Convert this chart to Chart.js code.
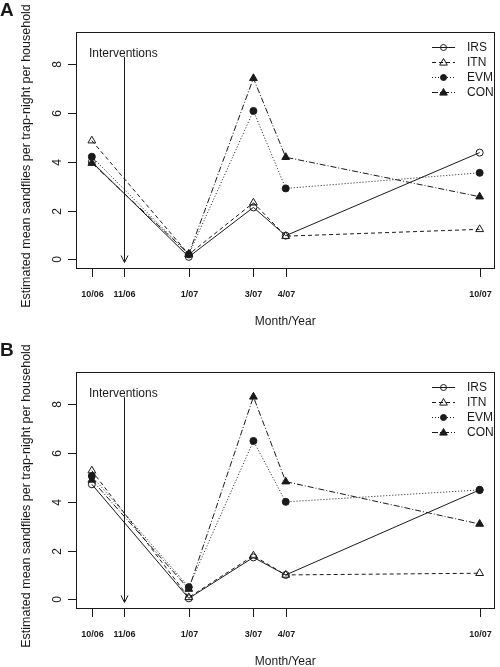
<!DOCTYPE html>
<html><head><meta charset="utf-8">
<script src="https://cdn.jsdelivr.net/npm/chart.js@4.4.0/dist/chart.umd.min.js"></script>
<style>
body{margin:0;background:#fff;width:500px;height:667px;position:relative;overflow:hidden}
canvas{position:absolute;left:0}
</style></head>
<body>
<canvas id="cA" width="500" height="327" style="top:0px"></canvas>
<canvas id="cB" width="500" height="327" style="top:340px"></canvas>
<script>
// ---- data ----
const months = [0, 3, 5, 6, 12];             // months since 10/06
const tickMonths = [0, 1, 3, 5, 6, 12];
const tickLabels = ['10/06', '11/06', '1/07', '3/07', '4/07', '10/07'];
const yTicks = [0, 2, 4, 6, 8];
const seriesNames = ['IRS', 'ITN', 'EVM', 'CON'];
const interventionMonth = 1;

const irsA = [4.00, 0.10, 2.13, 0.97, 4.38];
const itnA = [4.87, 0.20, 2.32, 0.95, 1.23];
const evmA = [4.21, 0.20, 6.09, 2.91, 3.55];
const conA = [3.95, 0.22, 7.43, 4.19, 2.57];

const irsB = [4.72, 0.04, 1.72, 1.00, 4.49];
const itnB = [5.28, 0.08, 1.79, 1.00, 1.07];
const evmB = [5.06, 0.50, 6.50, 4.00, 4.49];
const conB = [4.90, 0.42, 8.31, 4.83, 3.09];

const yTitle = 'Estimated mean sandflies per trap-night per household';
const xTitle = 'Month/Year';

// ---- styles ----
const INK = '#1a1a1a';
const styles = [
  {dash: [], point: 'circle', filled: false, r: 3.5},
  {dash: [4, 3], point: 'triangle', filled: false, r: 4.5},
  {dash: [1, 2], point: 'circle', filled: true, r: 3.5},
  {dash: [6, 2, 1, 2], point: 'triangle', filled: true, r: 4.5}
];

function drawMarker(ctx, st, x, y, r) {
  ctx.save();
  ctx.setLineDash([]);
  ctx.lineWidth = 1;
  ctx.strokeStyle = INK;
  ctx.fillStyle = st.filled ? INK : '#fff';
  ctx.beginPath();
  if (st.point === 'circle') {
    ctx.arc(x, y, r, 0, Math.PI * 2);
  } else {
    ctx.moveTo(x, y - r);
    ctx.lineTo(x + r * 0.95, y + r * 0.65);
    ctx.lineTo(x - r * 0.95, y + r * 0.65);
    ctx.closePath();
  }
  if (st.filled) ctx.fill();
  ctx.stroke();
  ctx.restore();
}

const decor = {
  id: 'decor',
  afterDraw(chart, args, opts) {
    const ctx = chart.ctx;
    const xs = chart.scales.x, ys = chart.scales.y;
    const a = chart.chartArea;
    ctx.save();
    ctx.strokeStyle = INK; ctx.fillStyle = INK; ctx.lineWidth = 1;
    ctx.setLineDash([]);
    // box
    ctx.strokeRect(Math.round(a.left) + 0.5, Math.round(a.top) + 0.5,
      Math.round(a.right - a.left) - 1, Math.round(a.bottom - a.top));
    // y ticks
    ctx.font = '12px "Liberation Sans", Arial, sans-serif';
    ctx.textAlign = 'center'; ctx.textBaseline = 'middle';
    yTicks.forEach(v => {
      const py = Math.round(ys.getPixelForValue(v)) + 0.5;
      ctx.beginPath(); ctx.moveTo(a.left - 8, py); ctx.lineTo(a.left, py); ctx.stroke();
      ctx.save(); ctx.translate(a.left - 18, py); ctx.rotate(-Math.PI / 2);
      ctx.fillText(String(v), 0, 0); ctx.restore();
    });
    // x ticks
    ctx.font = 'bold 9px "Liberation Sans", Arial, sans-serif';
    ctx.textBaseline = 'alphabetic';
    tickMonths.forEach((m, i) => {
      const px = Math.round(xs.getPixelForValue(m)) + 0.5;
      ctx.beginPath(); ctx.moveTo(px, a.bottom + 1); ctx.lineTo(px, a.bottom + 9); ctx.stroke();
      ctx.fillText(tickLabels[i], px, a.bottom + 29);
    });
    // axis titles
    ctx.font = '12px "Liberation Sans", Arial, sans-serif';
    ctx.fillText(xTitle, (a.left + a.right) / 2, a.bottom + 57);
    ctx.save(); ctx.translate(27, 156); ctx.rotate(-Math.PI / 2);
    ctx.textBaseline = 'middle';
    ctx.font = '12.5px "Liberation Sans", Arial, sans-serif';
    ctx.fillText(yTitle, 0, 0); ctx.restore();
    // panel letter
    ctx.font = 'bold 19px "Liberation Sans", Arial, sans-serif';
    ctx.textAlign = 'left'; ctx.textBaseline = 'alphabetic';
    ctx.fillText(opts.letter, 0, 16);
    // interventions arrow
    const ax = Math.round(xs.getPixelForValue(interventionMonth)) + 0.5;
    const y1 = ys.getPixelForValue(8.3), y2 = ys.getPixelForValue(-0.13);
    ctx.beginPath(); ctx.moveTo(ax, y1); ctx.lineTo(ax, y2); ctx.stroke();
    ctx.beginPath(); ctx.moveTo(ax - 3.5, y2 - 7); ctx.lineTo(ax, y2); ctx.lineTo(ax + 3.5, y2 - 7); ctx.stroke();
    ctx.font = '12px "Liberation Sans", Arial, sans-serif';
    ctx.fillText('Interventions', a.left + 13, a.top + 25);
    // legend
    chart.data.datasets.forEach((ds, i) => {
      const st = styles[i];
      const ly = a.top + 15 + i * 15;
      ctx.save(); ctx.setLineDash(st.dash);
      ctx.beginPath(); ctx.moveTo(a.left + 356, ly + 0.5); ctx.lineTo(a.left + 379, ly + 0.5); ctx.stroke();
      ctx.restore();
      drawMarker(ctx, st, a.left + 367.5, ly + 0.5, st.point === 'circle' ? 3 : 4);
      ctx.textBaseline = 'middle'; ctx.textAlign = 'left';
      ctx.fillText(ds.label, a.left + 391, ly + 1);
    });
    ctx.restore();
  }
};

function makeChart(id, letter, series) {
  const datasets = series.map((vals, i) => {
    const st = styles[i];
    return {
      label: seriesNames[i],
      data: months.map((m, j) => ({x: m, y: vals[j]})),
      borderColor: INK,
      borderWidth: 1,
      borderDash: st.dash,
      pointStyle: st.point,
      pointRadius: st.r,
      pointBorderWidth: 1,
      pointBorderColor: INK,
      pointBackgroundColor: st.filled ? INK : 'rgba(255,255,255,0)',
      tension: 0,
      fill: false
    };
  });
  return new Chart(document.getElementById(id), {
    type: 'line',
    data: {datasets},
    options: {
      responsive: false,
      animation: false,
      devicePixelRatio: 1,
      layout: {padding: {left: 76, right: 1, top: 32, bottom: 59}},
      plugins: {legend: {display: false}, tooltip: {enabled: false}, decor: {letter}},
      scales: {
        x: {type: 'linear', min: -0.49, max: 12.46, display: false},
        y: {type: 'linear', min: -0.357, max: 9.33, display: false}
      }
    },
    plugins: [decor]
  });
}

makeChart('cA', 'A', [irsA, itnA, evmA, conA]);
makeChart('cB', 'B', [irsB, itnB, evmB, conB]);
</script>
</body></html>
